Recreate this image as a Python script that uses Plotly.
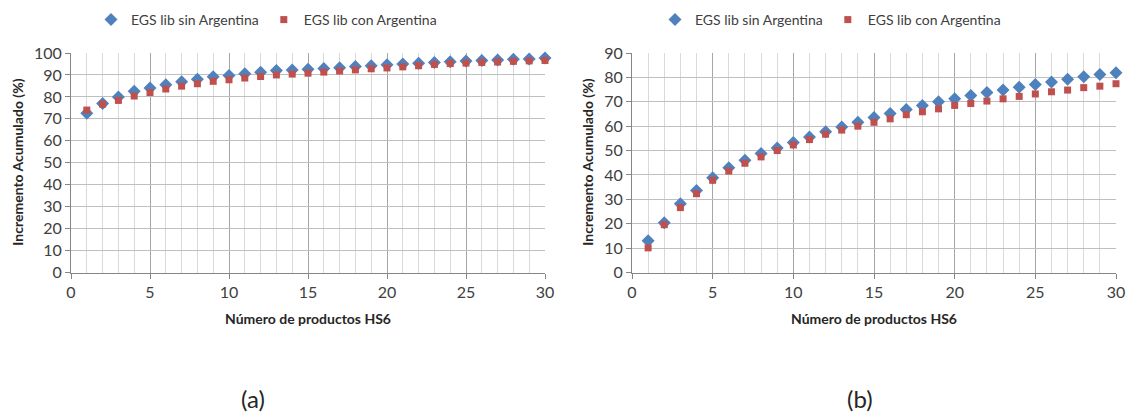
import plotly.graph_objects as go

# Número de productos HS6 (1..30)
productos = list(range(1, 31))

# Panel (a): incremento acumulado (%)
a_sin_arg = [72.5, 77.0, 80.0, 82.6, 84.0, 85.5, 86.9, 88.0, 89.2, 89.8,
             90.6, 91.2, 92.0, 92.2, 92.6, 92.9, 93.3, 93.8, 94.2, 94.6,
             95.0, 95.3, 95.7, 96.0, 96.3, 96.6, 96.8, 97.1, 97.3, 97.7]
a_con_arg = [74.0, 76.7, 78.4, 80.4, 82.0, 83.6, 84.9, 86.0, 87.1, 87.8,
             88.6, 89.3, 90.0, 90.4, 90.8, 91.3, 91.8, 92.3, 92.8, 93.2,
             93.7, 94.2, 94.8, 95.2, 95.4, 95.7, 95.9, 96.2, 96.4, 96.6]

# Panel (b): incremento acumulado (%)
b_sin_arg = [13.0, 20.4, 28.2, 33.6, 38.9, 42.9, 46.0, 48.8, 51.0, 53.3,
             55.6, 57.7, 59.7, 61.6, 63.6, 65.2, 66.8, 68.5, 70.0, 71.2,
             72.6, 73.8, 74.8, 76.0, 77.1, 78.1, 79.2, 80.3, 81.2, 81.9]
b_con_arg = [10.1, 19.6, 26.6, 32.3, 37.8, 41.6, 44.8, 47.4, 50.0, 52.3,
             54.5, 56.7, 58.4, 60.0, 61.6, 63.0, 64.7, 65.9, 67.1, 68.5,
             69.3, 70.3, 71.2, 72.2, 73.2, 74.1, 74.8, 75.8, 76.4, 77.4]

serie_sin = "EGS lib sin Argentina"
serie_con = "EGS lib con Argentina"
x_title = "Número de productos HS6"
y_title = "Incremento Acumulado (%)"
panel_labels = ["(a)", "(b)"]

BLUE = "#4F81BD"
RED = "#C0504D"
FONT = "Lato, 'Open Sans', sans-serif"
W, H = 1130, 415

fig = go.Figure()

panels = [
    dict(xa="x", ya="y", sin=a_sin_arg, con=a_con_arg, legend="legend"),
    dict(xa="x2", ya="y2", sin=b_sin_arg, con=b_con_arg, legend="legend2"),
]
for p in panels:
    fig.add_trace(go.Scatter(
        x=productos, y=p["sin"], name=serie_sin, mode="markers",
        marker=dict(symbol="diamond", size=10, color=BLUE),
        xaxis=p["xa"], yaxis=p["ya"], legend=p["legend"], cliponaxis=False))
    fig.add_trace(go.Scatter(
        x=productos, y=p["con"], name=serie_con, mode="markers",
        marker=dict(symbol="square", size=7, color=RED),
        xaxis=p["xa"], yaxis=p["ya"], legend=p["legend"], cliponaxis=False))

# plot-area pixel boxes
left_box = (71, 545)
right_box = (632, 1116)
top_px, bottom_px = 53, 272.5
ydom = [(H - bottom_px) / H, (H - top_px) / H]

def xaxis_cfg(box, anchor):
    return dict(
        domain=[box[0] / W, box[1] / W], anchor=anchor,
        range=[0, 30], dtick=5, tick0=0,
        showgrid=True, gridcolor="#a6a6a6", gridwidth=1,
        minor=dict(dtick=1, tick0=0, showgrid=True, gridcolor="#d9d9d9", gridwidth=1),
        showline=True, linecolor="#868686", linewidth=1,
        ticks="outside", ticklen=5, tickcolor="#868686",
        tickfont=dict(family=FONT, size=16, color="#404040"),
        zeroline=False, fixedrange=True, automargin=False,
    )

def yaxis_cfg(anchor, ymax):
    return dict(
        domain=ydom, anchor=anchor,
        range=[0, ymax], dtick=10, tick0=0,
        showgrid=True, gridcolor="#bfbfbf", gridwidth=1,
        showline=True, linecolor="#868686", linewidth=1,
        ticks="outside", ticklen=5, tickcolor="#868686",
        tickfont=dict(family=FONT, size=16, color="#404040"),
        zeroline=False, fixedrange=True, automargin=False,
    )

legend_common = dict(
    orientation="h", xanchor="left", yanchor="middle",
    font=dict(family=FONT, size=14, color="#404040"),
    bgcolor="rgba(0,0,0,0)", itemwidth=30,
)

fig.update_layout(
    width=W, height=H,
    margin=dict(l=0, r=0, t=0, b=0, autoexpand=False),
    paper_bgcolor="white", plot_bgcolor="white",
    xaxis=xaxis_cfg(left_box, "y"),
    yaxis=yaxis_cfg("x", 100),
    xaxis2=xaxis_cfg(right_box, "y2"),
    yaxis2=yaxis_cfg("x2", 90),
    legend=dict(x=91 / W, y=(H - 20) / H, **legend_common),
    legend2=dict(x=655 / W, y=(H - 20) / H, **legend_common),
    showlegend=True,
)

annotations = []
for box, lab_x, yt_x in [(left_box, 253, 18), (right_box, 860, 588)]:
    cx = (box[0] + box[1]) / 2
    annotations.append(dict(
        text=f"<b>{x_title}</b>", x=cx / W, y=(H - 318) / H,
        xref="paper", yref="paper", xanchor="center", yanchor="middle",
        showarrow=False, font=dict(family=FONT, size=14, color="#262626")))
    annotations.append(dict(
        text=f"<b>{y_title}</b>", x=yt_x / W, y=(H - (top_px + bottom_px) / 2) / H,
        xref="paper", yref="paper", xanchor="center", yanchor="middle",
        textangle=-90, showarrow=False,
        font=dict(family=FONT, size=14, color="#262626")))
for lab, lx in zip(panel_labels, [253, 860]):
    annotations.append(dict(
        text=lab, x=lx / W, y=(H - 398) / H,
        xref="paper", yref="paper", xanchor="center", yanchor="middle",
        showarrow=False, font=dict(family=FONT, size=24, color="#262626")))
fig.update_layout(annotations=annotations)

fig.write_html("out.html")
